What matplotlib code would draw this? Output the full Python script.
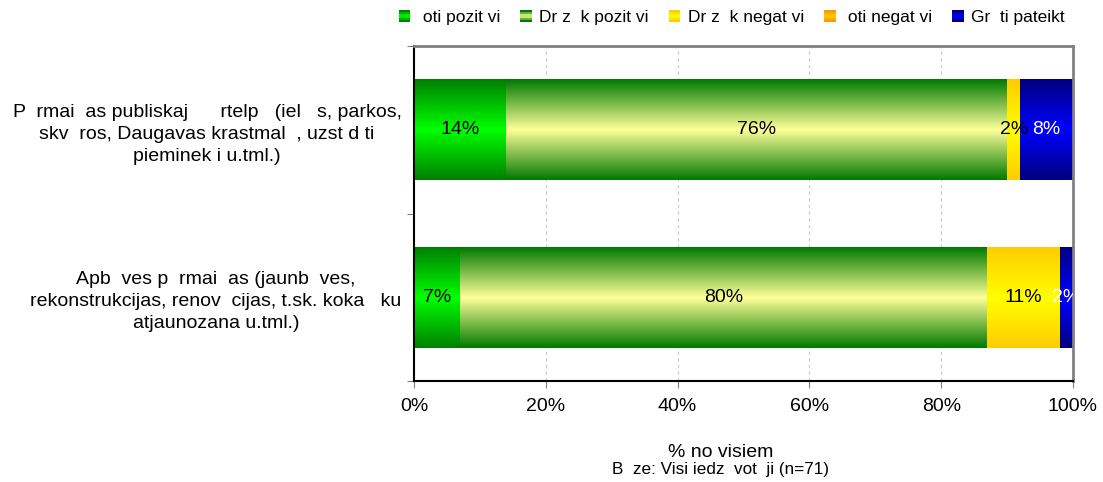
import numpy as np
import matplotlib
matplotlib.use("Agg")
from matplotlib import pyplot as plt
from matplotlib.patches import Rectangle
from matplotlib.legend_handler import HandlerBase
from matplotlib.colors import to_rgb

plt.rcParams["font.family"] = ["Liberation Sans", "DejaVu Sans"]

categories = [
    "P  rmai  as publiskaj      rtelp   (iel   s, parkos,\nskv  ros, Daugavas krastmal  , uzst d ti\npieminek i u.tml.)",
    "Apb  ves p  rmai  as (jaunb  ves,\nrekonstrukcijas, renov  cijas, t.sk. koka   ku\natjaunozana u.tml.)",
]
series_names = [" oti pozit vi", "Dr z  k pozit vi", "Dr z  k negat vi", " oti negat vi", "Gr  ti pateikt"]
values = {
    " oti pozit vi":    [14, 7],
    "Dr z  k pozit vi": [76, 80],
    "Dr z  k negat vi": [2, 11],
    " oti negat vi":    [0, 0],
    "Gr  ti pateikt":   [8, 2],
}

# (edge colour, centre colour) for the vertical gradient of each series
fills = [
    ("#008000", "#00FF00"),
    ("#007A00", "#FFFF99"),
    ("#FFCC00", "#FFFF00"),
    ("#FF9900", "#FFCC00"),
    ("#000080", "#0000FF"),
]
label_colors = ["black", "black", "black", "black", "white"]


def gradient(edge, mid, n=120):
    t = np.linspace(0, 1, n)
    w = 1 - np.abs(2 * t - 1)
    e, m = np.array(to_rgb(edge)), np.array(to_rgb(mid))
    return (e[None, :] * (1 - w[:, None]) + m[None, :] * w[:, None])[:, None, :]


class GradientHandler(HandlerBase):
    def __init__(self, edge, mid):
        super().__init__()
        self.edge, self.mid = edge, mid

    def create_artists(self, legend, orig_handle, xdescent, ydescent, width, height, fontsize, trans):
        img = gradient(self.edge, self.mid, 6)[:, 0, :]
        side = height * 0.95
        x0 = -xdescent + (width - side) / 2
        y0 = -ydescent + (height - side) / 2
        arts = []
        for i, c in enumerate(img):
            arts.append(Rectangle((x0, y0 + side * i / len(img)), side, side / len(img),
                                  facecolor=c, edgecolor="none", transform=trans))
        return arts


fig = plt.figure(figsize=(11.03, 4.82), dpi=100)
ax = fig.add_axes([0.3753, 0.2095, 0.5975, 0.6951])

y = np.arange(len(categories))
left = np.zeros(len(categories))
handles = []
for k, name in enumerate(series_names):
    vals = np.array(values[name], dtype=float)
    bars = ax.barh(y, vals, left=left, height=0.6, color="none", edgecolor="none", label=name)
    handles.append(bars[0])
    img = gradient(*fills[k])
    for rect, v in zip(bars, vals):
        if v <= 0:
            continue
        x0, y0 = rect.get_x(), rect.get_y()
        ax.imshow(img, extent=[x0, x0 + rect.get_width(), y0, y0 + rect.get_height()],
                  aspect="auto", zorder=2, interpolation="bilinear")
        ax.text(x0 + rect.get_width() / 2, y0 + rect.get_height() / 2, f"{v:.0f}%",
                ha="center", va="center", fontsize=14, color=label_colors[k],
                zorder=3, clip_on=True)
    left += vals

ax.set_xlim(0, 100)
ax.set_ylim(len(categories) - 0.5, -0.5)

ax.set_xticks(np.arange(0, 101, 20))
ax.set_xticklabels([f"{t}%" for t in range(0, 101, 20)], fontsize=14)
ax.tick_params(axis="x", length=5, color="#808080", pad=7)
ax.xaxis.grid(True, linestyle=(0, (3, 3)), color="#C8C8C8", linewidth=0.8)
ax.set_axisbelow(True)

ax.set_yticks(y)
ax.set_yticklabels(categories, fontsize=14, multialignment="center", linespacing=1.38)
ax.tick_params(axis="y", which="major", length=0, pad=9)
ax.set_yticks(np.arange(-0.5, len(categories), 1), minor=True)
ax.tick_params(axis="y", which="minor", length=5, color="#606060")

ax.spines["left"].set_color("black")
ax.spines["left"].set_linewidth(1.5)
ax.spines["bottom"].set_color("black")
ax.spines["bottom"].set_linewidth(1.5)
ax.spines["top"].set_color("#808080")
ax.spines["top"].set_linewidth(2)
ax.spines["right"].set_color("#808080")
ax.spines["right"].set_linewidth(2)

handler_map = {h: GradientHandler(*fills[k]) for k, h in enumerate(handles)}
fig.legend(handles, series_names, handler_map=handler_map, loc="upper center",
           bbox_to_anchor=(0.663, 1.012), ncol=5, frameon=False, fontsize=12.5,
           handlelength=0.8, handletextpad=0.35, columnspacing=1.1)

fig.text(0.653, 0.062, "% no visiem", ha="center", va="center", fontsize=14)
fig.text(0.653, 0.025, "B  ze: Visi iedz  vot  ji (n=71)", ha="center", va="center", fontsize=12.3)

fig.savefig("out.png", dpi=100)
